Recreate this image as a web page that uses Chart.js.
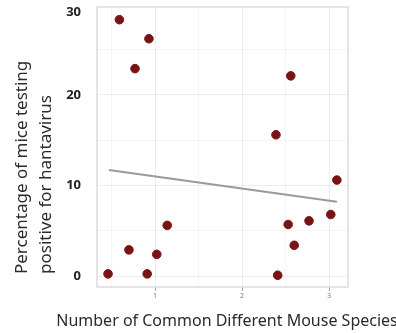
<!DOCTYPE html>
<html>
<head>
    <title>Hantavirus vs Mouse Species</title>
    <script src="https://cdn.jsdelivr.net/npm/chart.js"></script>
    <style>
        body {
            margin: 0;
            padding: 0;
            background: #fff;
        }

        #chart-container {
            width: 396px;
            height: 333px;
        }
    </style>
</head>
<body>
    <div id="chart-container">
        <canvas id="myChart"></canvas>
    </div>

    <script>
        // number of common mouse species vs % of mice positive for hantavirus
        const speciesCount = [0.59, 0.93, 0.77, 0.46, 0.70, 0.91, 1.02, 1.14, 2.56, 2.39, 3.09, 2.53, 2.77, 3.02, 2.60, 2.41];
        const percentPositive = [28.3, 26.2, 22.9, 0.25, 2.9, 0.25, 2.4, 5.6, 22.1, 15.6, 10.6, 5.7, 6.1, 6.8, 3.4, 0.1];

        // fitted trend line end points
        const trendX = [0.47, 3.09];
        const trendY = [11.7, 8.2];

        // y tick values and their labels (top label sits just inside the frame)
        const yTickValues = [0, 5, 10, 15, 20, 25, 29.1];
        const yTickLabels = ['0', '', '10', '', '20', '', '30'];
        const xTickValues = [0.5, 1, 1.5, 2, 2.5, 3];
        const xTickLabels = ['', '1', '', '2', '', '3'];

        const yTitleLines = ['Percentage of mice testing', 'positive for hantavirus'];
        const xTitle = 'Number of Common Different Mouse Species';

        const points = speciesCount.map((x, i) => ({ x: x, y: percentPositive[i] }));
        const trend = trendX.map((x, i) => ({ x: x, y: trendY[i] }));

        const chartCanvas = document.getElementById('myChart');
        const textFont = 'Noto Sans';

        // light frame round the plot panel
        const panelBorder = {
            id: 'panelBorder',
            beforeDatasetsDraw(chart) {
                const { ctx, chartArea } = chart;
                ctx.save();
                ctx.strokeStyle = '#dcdcdc';
                ctx.lineWidth = 1.5;
                ctx.strokeRect(chartArea.left, chartArea.top, chartArea.right - chartArea.left, chartArea.bottom - chartArea.top);
                ctx.restore();
            }
        };

        // axis titles: the x title runs wider than the panel, the y title
        // is two lines left aligned from the bottom
        const axisTitles = {
            id: 'axisTitles',
            afterDraw(chart) {
                const ctx = chart.ctx;
                ctx.save();
                ctx.fillStyle = '#2a2a2a';
                ctx.textBaseline = 'middle';

                ctx.font = '16px "' + textFont + '"';
                ctx.textAlign = 'center';
                ctx.fillText(xTitle, 227, 321);

                ctx.font = '17px "' + textFont + '"';
                ctx.textAlign = 'left';
                ctx.translate(0, 274);
                ctx.rotate(-Math.PI / 2);
                ctx.fillText(yTitleLines[0], 0, 22);
                ctx.fillText(yTitleLines[1], 0, 46);
                ctx.restore();
            }
        };

        const myChart = new Chart(chartCanvas, {
            type: 'scatter',
            data: {
                datasets: [{
                    label: 'Sites',
                    data: points,
                    backgroundColor: '#7a1414',
                    borderColor: '#7a1414',
                    pointRadius: 4.3,
                    pointHoverRadius: 4.3,
                    order: 1
                }, {
                    type: 'line',
                    label: 'Trend',
                    data: trend,
                    borderColor: '#9a9a9a',
                    borderWidth: 2,
                    pointRadius: 0,
                    fill: false,
                    order: 2
                }]
            },
            options: {
                responsive: true,
                maintainAspectRatio: false,
                animation: false,
                layout: {
                    padding: { top: 7, right: 48, bottom: 0, left: 0 }
                },
                plugins: {
                    legend: { display: false },
                    tooltip: { enabled: false }
                },
                scales: {
                    x: {
                        type: 'linear',
                        min: 0.333,
                        max: 3.218,
                        afterBuildTicks: scale => {
                            scale.ticks = xTickValues.map(v => ({ value: v }));
                        },
                        afterFit: scale => {
                            scale.height = 46;
                            scale.paddingLeft = 0;
                            scale.paddingRight = 0;
                        },
                        border: { display: false },
                        grid: {
                            color: ctx => ctx.tick && ctx.tick.value % 1 === 0 ? 'rgba(0,0,0,0.07)' : 'rgba(0,0,0,0.04)',
                            tickColor: ctx => ctx.tick && ctx.tick.value % 1 === 0 ? '#aaa' : 'rgba(0,0,0,0)',
                            tickLength: 4,
                            lineWidth: 1
                        },
                        ticks: {
                            autoSkip: false,
                            maxRotation: 0,
                            padding: 1,
                            color: '#777',
                            font: { family: textFont, size: 7 },
                            callback: (v, i) => xTickLabels[i]
                        }
                    },
                    y: {
                        type: 'linear',
                        min: -1.2,
                        max: 29.7,
                        afterBuildTicks: scale => {
                            scale.ticks = yTickValues.map(v => ({ value: v }));
                        },
                        afterFit: scale => {
                            scale.width = 97;
                            scale.paddingTop = 0;
                            scale.paddingBottom = 0;
                        },
                        border: { display: false },
                        grid: {
                            color: ctx => {
                                if (!ctx.tick) return 'rgba(0,0,0,0)';
                                if (ctx.tick.value > 28) return 'rgba(0,0,0,0)';
                                return ctx.tick.value % 10 === 0 ? 'rgba(0,0,0,0.07)' : 'rgba(0,0,0,0.04)';
                            },
                            drawTicks: false,
                            lineWidth: 1
                        },
                        ticks: {
                            autoSkip: false,
                            padding: 16,
                            color: '#222',
                            font: { family: textFont, size: 13, weight: 'bold' },
                            callback: (v, i) => yTickLabels[i]
                        }
                    }
                }
            },
            plugins: [panelBorder, axisTitles]
        });
    </script>
</body>
</html>
